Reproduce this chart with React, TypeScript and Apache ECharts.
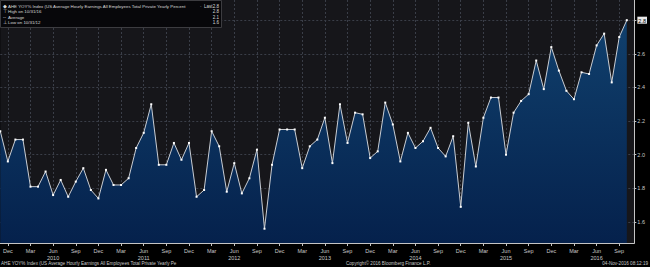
import React, { useEffect, useRef } from "react";
import * as echarts from "echarts";

const MONTH_NAMES = ["Jan", "Feb", "Mar", "Apr", "May", "Jun", "Jul", "Aug", "Sep", "Oct", "Nov", "Dec"];
const START_YEAR = 2009;
const START_MONTH = 10; // Nov
const CATEGORY_COUNT = 85; // Nov 2009 .. Nov 2016

const categories: string[] = [];
for (let i = 0; i < CATEGORY_COUNT; i++) {
  const m = (START_MONTH + i) % 12;
  const y = START_YEAR + Math.floor((START_MONTH + i) / 12);
  categories.push(MONTH_NAMES[m] + " " + y);
}

const ahe: number[] = [
  2.14, 1.96, 2.09, 2.09, 1.81, 1.81, 1.9, 1.76, 1.85, 1.75,
  1.84, 1.92, 1.79, 1.74, 1.91, 1.82, 1.82, 1.86, 2.04, 2.13,
  2.3, 1.94, 1.94, 2.07, 1.97, 2.07, 1.75, 1.79, 2.14, 2.05,
  1.78, 1.95, 1.77, 1.86, 2.03, 1.56, 1.94, 2.15, 2.15, 2.15,
  1.92, 2.05, 2.09, 2.22, 1.95, 2.3, 2.07, 2.25, 2.24, 1.98,
  2.02, 2.31, 2.18, 1.96, 2.13, 2.04, 2.08, 2.16, 2.04, 1.99,
  2.11, 1.69, 2.19, 1.93, 2.22, 2.34, 2.34, 2.0, 2.25, 2.32,
  2.36, 2.56, 2.39, 2.64, 2.5, 2.38, 2.33, 2.49, 2.48, 2.65,
  2.72, 2.43, 2.7, 2.8,
];

const yTicks: number[] = [1.6, 1.8, 2.0, 2.2, 2.4, 2.6, 2.8];
const LAST_VALUE = 2.8;

const legendRows = [
  { mark: "◆", label: "AHE YOY% Index (US Average Hourly Earnings All Employees Total Private Yearly Percent", extra: "·  Last", value: "2.8" },
  { mark: "⊤", label: "High on 10/31/16", extra: "", value: "2.8" },
  { mark: "--", label: "Average", extra: "", value: "2.1" },
  { mark: "⊥", label: "Low on 10/31/12", extra: "", value: "1.6" },
];

const footerLeft = "AHE YOY% Index (US Average Hourly Earnings All Employees Total Private Yearly Pe";
const footerMid = "Copyright© 2016 Bloomberg Finance L.P.";
const footerRight = "04-Nov-2016 08:12:19";

const FONT = "Liberation Sans, Arial, sans-serif";
const qtr = (index: number) => (index - 1) % 3 === 0;

export default function App() {
  const ref = useRef<HTMLDivElement>(null);
  useEffect(() => {
    if (!ref.current) return;
    const chart = echarts.init(ref.current, null, { renderer: "svg" });
    const legendGraphics: any[] = [
      {
        type: "rect",
        shape: { x: 0.5, y: 0.5, width: 221, height: 27 },
        style: { fill: "#07070a", stroke: "#3c3c40", lineWidth: 1 },
        z: 10,
      },
    ];
    legendRows.forEach((r, i) => {
      const y = 6 + i * 5.5;
      legendGraphics.push({
        type: "text", x: 3, y, z: 11,
        style: { text: r.mark, fill: "#d8d8d8", font: `4.5px ${FONT}`, verticalAlign: "middle" },
      });
      legendGraphics.push({
        type: "text", x: 8, y, z: 11,
        style: { text: r.label, fill: "#d8d8d8", font: `4.4px ${FONT}`, verticalAlign: "middle" },
      });
      if (r.extra) {
        legendGraphics.push({
          type: "text", x: 200, y, z: 11,
          style: { text: r.extra, fill: "#d8d8d8", font: `4.5px ${FONT}`, verticalAlign: "middle" },
        });
      }
      legendGraphics.push({
        type: "text", x: 219, y, z: 11,
        style: { text: r.value, fill: "#d8d8d8", font: `4.5px ${FONT}`, verticalAlign: "middle", align: "right" },
      });
    });
    const footer: any[] = [
      { type: "text", x: 1, y: 263.5, style: { text: footerLeft, fill: "#c8c8c8", font: `4.6px ${FONT}`, verticalAlign: "middle" } },
      { type: "text", x: 346, y: 263.5, style: { text: footerMid, fill: "#c8c8c8", font: `4.6px ${FONT}`, verticalAlign: "middle" } },
      { type: "text", x: 648, y: 263.5, style: { text: footerRight, fill: "#c8c8c8", font: `4.6px ${FONT}`, verticalAlign: "middle", align: "right" } },
    ];

    chart.setOption({
      animation: false,
      backgroundColor: "#000000",
      grid: {
        left: 0, right: 11, top: 0, bottom: 24,
        show: true, backgroundColor: "#16161a", borderWidth: 0,
      },
      xAxis: {
        type: "category",
        data: categories,
        boundaryGap: false,
        axisLine: { lineStyle: { color: "#c4c4c4", width: 1 } },
        axisTick: { show: true, interval: qtr, length: 3, lineStyle: { color: "#c4c4c4" } },
        axisLabel: {
          interval: qtr,
          color: "#c8c8c8",
          fontFamily: FONT,
          fontSize: 5.5,
          lineHeight: 6.5,
          margin: 5,
          formatter: (val: string) => {
            const [m, y] = val.split(" ");
            return m === "Jun" ? m + "\n" + y : m;
          },
        },
        splitLine: { show: true, interval: qtr, lineStyle: { color: "#3a3e48", type: [2, 2], width: 1 } },
      },
      yAxis: {
        type: "value",
        position: "right",
        min: 1.475,
        max: 2.92,
        axisLine: { show: true, lineStyle: { color: "#c4c4c4", width: 1 } },
        axisTick: { show: true, customValues: yTicks, length: 2, lineStyle: { color: "#c4c4c4" } },
        axisLabel: {
          customValues: yTicks,
          color: "#c8c8c8",
          fontFamily: FONT,
          fontSize: 5.5,
          margin: 3,
          formatter: (v: number) => (Math.abs(v - LAST_VALUE) < 1e-6 ? "{hl|" + v.toFixed(1) + "}" : v.toFixed(1)),
          rich: {
            hl: { backgroundColor: "#e8e8e8", color: "#000", fontSize: 5.5, fontFamily: FONT, padding: [1, 1, 0, 1] },
          },
        },
        splitLine: { show: true, lineStyle: { color: "#3a3e48", type: [2, 2], width: 1 } },
      },
      series: [
        {
          type: "line",
          data: ahe,
          symbol: "rect",
          symbolSize: 2,
          showSymbol: true,
          itemStyle: { color: "#ffffff" },
          lineStyle: { color: "#c9cdd3", width: 1 },
          areaStyle: {
            color: new echarts.graphic.LinearGradient(0, 0, 0, 1, [
              { offset: 0, color: "#10406d" },
              { offset: 1, color: "#05214c" },
            ]),
            opacity: 1,
          },
        },
      ],
      graphic: [...legendGraphics, ...footer],
    });
    return () => chart.dispose();
  }, []);
  return <div ref={ref} style={{ position: "fixed", left: 0, top: 0, width: 650, height: 267 }} />;
}
